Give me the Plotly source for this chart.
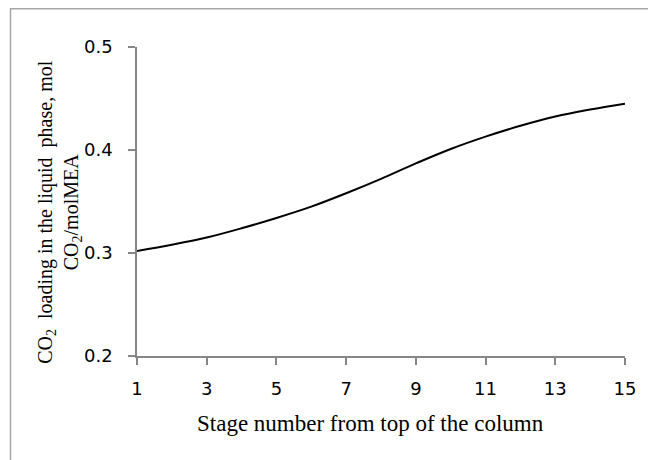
import plotly.graph_objects as go

stages = [1, 2, 3, 4, 5, 6, 7, 8, 9, 10, 11, 12, 13, 14, 15]
co2_loading = [0.302, 0.308, 0.315, 0.324, 0.334, 0.345, 0.358, 0.372, 0.387,
               0.401, 0.413, 0.4235, 0.4325, 0.4393, 0.445]
x_ticks = [1, 3, 5, 7, 9, 11, 13, 15]
y_ticks = [0.2, 0.3, 0.4, 0.5]

x_title = "Stage number from top of the column"
y_title = "CO<sub>2</sub>  loading in the liquid  phase, mol<br>CO<sub>2</sub>/molMEA"

fig = go.Figure()
fig.add_trace(go.Scatter(
    x=stages, y=co2_loading, mode="lines",
    line=dict(color="black", width=2, shape="spline", smoothing=1.0),
    showlegend=False, hoverinfo="skip",
))

axis_common = dict(
    showgrid=False, zeroline=False, showline=True,
    linecolor="#868686", linewidth=1.5,
    ticks="outside", ticklen=7, tickcolor="#868686", tickwidth=1.5,
    tickfont=dict(family="DejaVu Sans", size=18, color="black"),
)

fig.update_xaxes(range=[1, 15], tickvals=x_ticks, ticktext=[str(v) for v in x_ticks],
                 ticklabelstandoff=9, **axis_common)
fig.update_yaxes(range=[0.2, 0.5], tickvals=y_ticks, ticktext=[f"{v:.1f}" for v in y_ticks],
                 ticklabelstandoff=12, **axis_common)

# page margin is removed by post_script, so figure coordinates equal page coordinates
W, H = 648, 460
L = 137
R = W - 627
T = 47.3
B = H - 355.7
pw, ph = W - L - R, H - T - B

def px_to_paper_x(px):
    return (px - L) / pw

def px_to_paper_y(py):
    return (H - B - py) / ph

bx0, by0 = px_to_paper_x(10), px_to_paper_y(9)
bx1, by1 = px_to_paper_x(720), px_to_paper_y(540)
border_path = f"M {bx0} {by1} L {bx0} {by0} L {bx1} {by0}"

fig.update_layout(
    width=W, height=H,
    margin=dict(l=L, r=R, t=T, b=B),
    paper_bgcolor="white", plot_bgcolor="white",
    shapes=[dict(
        type="path", xref="paper", yref="paper", path=border_path,
        line=dict(color="#a6a6a6", width=1.5), layer="below",
    )],
    annotations=[
        dict(text=x_title, xref="paper", yref="paper",
             x=px_to_paper_x(371.5), y=px_to_paper_y(423),
             xanchor="center", yanchor="middle", showarrow=False,
             font=dict(family="Liberation Serif", size=23, color="black")),
        dict(text=y_title, xref="paper", yref="paper",
             x=px_to_paper_x(58.5), y=px_to_paper_y(212),
             xanchor="center", yanchor="middle", showarrow=False, textangle=-90,
             font=dict(family="Liberation Serif", size=20, color="black")),
    ],
)

fig.write_html(
    "out.html",
    config={"displayModeBar": False},
    post_script="document.body.style.margin='0';document.body.style.overflow='hidden';",
)
